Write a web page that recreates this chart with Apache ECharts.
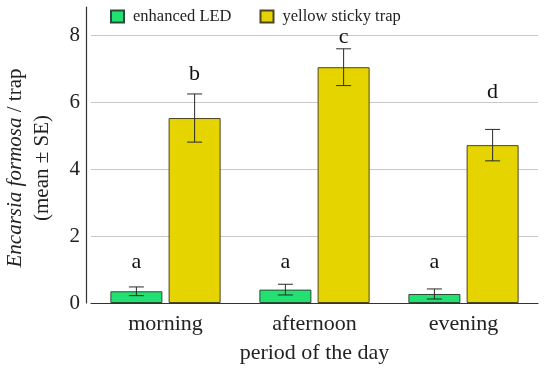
<!DOCTYPE html>
<html>
<head>
<meta charset="utf-8">
<script src="https://cdn.jsdelivr.net/npm/echarts@6/dist/echarts.min.js"></script>
<style>html,body{margin:0;padding:0;background:#fff}#c{width:550px;height:369px}</style>
</head>
<body>
<div id="c"></div>
<script>
var categories = ['morning', 'afternoon', 'evening'];
var seriesNames = ['enhanced LED', 'yellow sticky trap'];
var ledMean = [0.35, 0.40, 0.27];
var ledSE = [0.13, 0.16, 0.15];
var stickyMean = [5.53, 7.05, 4.72];
var stickySE = [0.72, 0.55, 0.47];
var ledLetters = ['a', 'a', 'a'];
var stickyLetters = ['b', 'c', 'd'];
var ledLetterY = [1.23, 1.23, 1.23];
var stickyLetterY = [6.83, 7.96, 6.29];
var yTicks = [0, 2, 4, 6, 8];

var FONT = '"Liberation Serif", "DejaVu Serif", serif';
var BAR_W = 52;
var BAR_GAP_PCT = 12;
var OFFSET = (BAR_W + BAR_W * BAR_GAP_PCT / 100) / 2;

function errData(mean, se) {
  return mean.map(function (m, i) { return [i, m - se[i], m + se[i]]; });
}
function letterData(ys, letters) {
  return ys.map(function (y, i) { return [i, y, letters[i]]; });
}
function errRender(offset) {
  return function (params, api) {
    var lo = api.coord([api.value(0), api.value(1)]);
    var hi = api.coord([api.value(0), api.value(2)]);
    var x = lo[0] + offset;
    var cap = 7.5;
    var st = { stroke: '#2a2a2a', lineWidth: 1 };
    return {
      type: 'group',
      children: [
        { type: 'line', shape: { x1: x, y1: lo[1], x2: x, y2: hi[1] }, style: st },
        { type: 'line', shape: { x1: x - cap, y1: lo[1], x2: x + cap, y2: lo[1] }, style: st },
        { type: 'line', shape: { x1: x - cap, y1: hi[1], x2: x + cap, y2: hi[1] }, style: st }
      ]
    };
  };
}
function letterRender(offset) {
  return function (params, api) {
    var p = api.coord([api.value(0), api.value(1)]);
    return {
      type: 'text',
      x: p[0] + offset,
      y: p[1],
      style: {
        text: String(api.value(2)),
        textAlign: 'center',
        textVerticalAlign: 'middle',
        font: '22px ' + FONT,
        fill: '#111'
      }
    };
  };
}

var chart = echarts.init(document.getElementById('c'), null, { renderer: 'canvas' });
chart.setOption({
  animation: false,
  backgroundColor: '#fff',
  textStyle: { fontFamily: FONT },
  legend: {
    left: 105, top: 3,
    itemWidth: 13, itemHeight: 12, itemGap: 28,
    icon: 'rect',
    textStyle: { fontFamily: FONT, fontSize: 16.5, color: '#222', padding: [0, 0, 0, 4] },
    data: seriesNames
  },
  grid: { left: 91, right: 12, top: 7, bottom: 66 },
  xAxis: {
    type: 'category',
    data: categories,
    axisTick: { show: false },
    axisLine: { lineStyle: { color: '#333', width: 1.2 } },
    axisLabel: { fontFamily: FONT, fontSize: 22, color: '#222', margin: 10 },
    name: 'period of the day',
    nameLocation: 'middle',
    nameGap: 39,
    nameTextStyle: { fontFamily: FONT, fontSize: 22, color: '#222' }
  },
  yAxis: {
    type: 'value',
    min: 0, max: 8.85, interval: 2,
    offset: 5,
    axisLine: { show: true, lineStyle: { color: '#333', width: 1.2 } },
    axisTick: { show: false },
    axisLabel: {
      fontFamily: FONT, fontSize: 21, color: '#222', margin: 6, showMaxLabel: false,
      formatter: function (v) { return yTicks.indexOf(v) >= 0 ? String(v) : ''; }
    },
    splitLine: { show: true, showMinLine: false, showMaxLine: false, lineStyle: { color: '#c8c8c8', width: 1 } }
  },
  graphic: [{
    type: 'text',
    x: 29, y: 168,
    rotation: Math.PI / 2,
    style: {
      text: '{i|Encarsia formosa} / trap\n(mean ± SE)',
      textAlign: 'center',
      textVerticalAlign: 'middle',
      font: '21px ' + FONT,
      fill: '#222',
      lineHeight: 27,
      rich: {
        i: { fontStyle: 'italic', fontFamily: FONT, fontSize: 21, fill: '#222', lineHeight: 27 }
      }
    }
  }],
  series: [
    {
      name: seriesNames[0], type: 'bar', data: ledMean,
      barWidth: BAR_W, barGap: BAR_GAP_PCT + '%',
      itemStyle: { color: '#22e072', borderColor: '#2d4a34', borderWidth: 1 }
    },
    {
      name: seriesNames[1], type: 'bar', data: stickyMean,
      barWidth: BAR_W, barGap: BAR_GAP_PCT + '%',
      itemStyle: { color: '#e5d400', borderColor: '#4d4520', borderWidth: 1 }
    },
    { type: 'custom', renderItem: errRender(-OFFSET), data: errData(ledMean, ledSE), z: 5, silent: true },
    { type: 'custom', renderItem: errRender(OFFSET), data: errData(stickyMean, stickySE), z: 5, silent: true },
    { type: 'custom', renderItem: letterRender(-OFFSET), data: letterData(ledLetterY, ledLetters), z: 5, silent: true },
    { type: 'custom', renderItem: letterRender(OFFSET), data: letterData(stickyLetterY, stickyLetters), z: 5, silent: true }
  ]
});
</script>
</body>
</html>
